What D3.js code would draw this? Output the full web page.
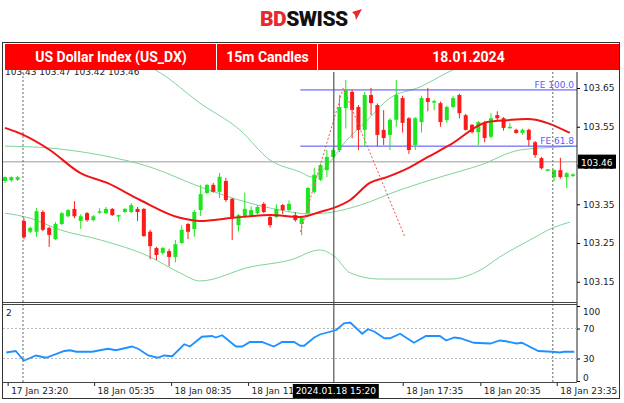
<!DOCTYPE html>
<html><head><meta charset="utf-8">
<script src="https://cdn.jsdelivr.net/npm/d3@7"></script>
<style>body{margin:0;background:#fff;font-family:"DejaVu Sans",sans-serif}</style>
</head><body><svg id="c" width="624" height="403"></svg>
<script>
// candles: [open, high, low, close]
const candles = [
[103.41,103.422,103.405,103.42],[103.412,103.422,103.408,103.42],[103.413,103.423,103.41,103.42],
[103.307,103.315,103.26,103.265],[103.279,103.292,103.275,103.289],[103.279,103.34,103.266,103.332],
[103.33,103.335,103.28,103.284],[103.289,103.292,103.24,103.271],[103.26,103.304,103.258,103.299],
[103.299,103.33,103.296,103.327],[103.319,103.338,103.316,103.335],[103.338,103.358,103.314,103.319],
[103.307,103.324,103.286,103.319],[103.327,103.33,103.305,103.309],[103.309,103.322,103.306,103.319],
[103.33,103.34,103.325,103.332],[103.327,103.343,103.325,103.338],[103.338,103.34,103.32,103.322],
[103.32,103.323,103.305,103.322],[103.33,103.34,103.327,103.338],[103.33,103.353,103.327,103.348],
[103.338,103.343,103.307,103.33],[103.338,103.34,103.266,103.268],[103.279,103.284,103.208,103.242],
[103.237,103.24,103.206,103.219],[103.224,103.24,103.22,103.237],[103.229,103.235,103.19,103.214],
[103.214,103.258,103.2,103.247],[103.25,103.296,103.248,103.284],[103.299,103.302,103.26,103.279],
[103.286,103.335,103.266,103.33],[103.335,103.4,103.32,103.376],[103.379,103.402,103.376,103.4],
[103.4,103.405,103.38,103.382],[103.382,103.431,103.366,103.421],[103.41,103.418,103.356,103.361],
[103.364,103.366,103.258,103.314],[103.296,103.325,103.28,103.322],[103.317,103.38,103.314,103.338],
[103.322,103.345,103.318,103.335],[103.327,103.348,103.324,103.343],[103.351,103.355,103.327,103.33],
[103.317,103.32,103.29,103.296],[103.317,103.35,103.314,103.338],[103.348,103.351,103.325,103.335],
[103.335,103.36,103.33,103.351],[103.322,103.33,103.305,103.309],[103.299,103.317,103.27,103.314],
[103.327,103.395,103.324,103.392],[103.382,103.444,103.378,103.426],[103.413,103.455,103.41,103.451],
[103.438,103.49,103.42,103.472],[103.472,103.495,103.468,103.49],[103.49,103.632,103.485,103.601],
[103.598,103.671,103.545,103.645],[103.64,103.645,103.52,103.593],[103.601,103.606,103.49,103.542],
[103.542,103.64,103.5,103.632],[103.632,103.65,103.58,103.611],[103.606,103.61,103.5,103.529],
[103.542,103.593,103.503,103.521],[103.529,103.572,103.49,103.568],[103.568,103.671,103.55,103.632],
[103.624,103.63,103.535,103.56],[103.572,103.575,103.48,103.49],[103.503,103.575,103.49,103.572],
[103.562,103.63,103.535,103.624],[103.624,103.65,103.59,103.614],[103.612,103.62,103.593,103.616],
[103.611,103.615,103.55,103.562],[103.567,103.605,103.56,103.601],[103.601,103.63,103.598,103.624],
[103.632,103.635,103.572,103.585],[103.58,103.583,103.54,103.542],[103.555,103.557,103.533,103.536],
[103.536,103.565,103.503,103.562],[103.56,103.565,103.51,103.521],[103.524,103.585,103.52,103.572],
[103.58,103.59,103.568,103.572],[103.572,103.575,103.54,103.547],[103.547,103.56,103.545,103.55],
[103.542,103.545,103.532,103.534],[103.534,103.545,103.53,103.542],[103.542,103.545,103.5,103.516],
[103.51,103.513,103.47,103.477],[103.469,103.472,103.44,103.443],[103.438,103.441,103.437,103.44],
[103.42,103.44,103.41,103.438],[103.438,103.47,103.416,103.42],[103.42,103.433,103.392,103.43],
[103.425,103.43,103.42,103.427]];
// [candle index, value]
const maLine = [[0,103.547],[2.9,103.529],[7.1,103.49],[11.9,103.431],[16.2,103.405],[21.4,103.361],[27.7,103.315],[30.9,103.307],[36.1,103.315],[42,103.322],[46.8,103.317],[49.9,103.33],[52,103.34],[54.7,103.361],[57.8,103.405],[60.5,103.42],[64.2,103.446],[67,103.472],[70.5,103.503],[76.4,103.562],[79.6,103.567],[82.7,103.57],[89.5,103.534]];
const bbUpper = [[18.2,103.735],[24.6,103.689],[30.9,103.611],[37.2,103.542],[42,103.464],[46.8,103.433],[48.7,103.42],[51.5,103.459],[53.9,103.511],[57.1,103.562],[61,103.624],[65.8,103.653],[70,103.689],[73.7,103.717]];
const bbMiddle = [[0,103.5],[7.1,103.495],[15.1,103.477],[23,103.446],[30.9,103.395],[38.8,103.353],[43.6,103.335],[48.3,103.325],[52,103.33],[56.3,103.348],[62.6,103.387],[68.9,103.42],[75.3,103.451],[81.6,103.49],[88,103.498],[90,103.5]];
const bbLower = [[0,103.327],[4,103.314],[8.7,103.284],[15.1,103.258],[23,103.214],[27.7,103.173],[30.9,103.152],[38.8,103.188],[45.2,103.206],[49.9,103.232],[52.3,103.214],[54.7,103.173],[59.4,103.157],[70.5,103.157],[75.3,103.18],[78.4,103.214],[83.2,103.258],[86.8,103.289],[89.5,103.304]];
const fibPath = [[46.8,103.279],[53.6,103.65],[63.4,103.264]];
const feLevels = [{label:"FE 100.0",value:103.645,from:46.8},{label:"FE 61.8",value:103.5,from:46.8}];
const lastPrice = 103.46;
const oscValues = [[0.2,38],[1.7,40],[3,27],[4.9,34],[6.5,31],[9.4,40],[10.3,41],[11.3,39],[13.8,39],[16.3,43],[17.6,41],[20.1,46],[21.1,43],[22.7,34],[24.2,31],[25.2,34],[26.5,33],[28.4,49],[29.3,46],[31.2,59],[32.8,60],[33.4,58],[34.4,61],[36.6,46],[37.6,46],[38.8,52],[40.7,52],[42.6,46],[43.9,52],[45.8,52],[46.8,47],[47.4,47],[49,58],[49.9,62],[52.5,68],[53.7,77],[54.7,78],[56.6,63],[57.5,69],[58.5,66],[60.1,57],[61,57],[62.6,63],[64.8,51],[66.7,60],[68.9,60],[69.9,54],[71.2,58],[72.1,57],[74.3,51],[76.9,50],[78.4,54],[79.4,53],[81,50],[81.9,51],[84.5,40],[86.7,39],[87.9,38],[88.6,39],[90.2,39]];
const priceTicks = [103.15,103.25,103.35,103.45,103.55,103.65];
const oscTicks = [0,30,70,100];
const timeLabels = [[0.5,"17 Jan 23:20"],[14.2,"18 Jan 05:35"],[26.4,"18 Jan 08:35"],[38.6,"18 Jan 11:3"],[63.1,"18 Jan 17:35"],[75.4,"18 Jan 20:35"],[87.5,"18 Jan 23:35"]];
const cursorLabel = [52.1,"2024.01.18 15:20"];
const dottedV = [2.85,86.8];
const headerTitles = ["US Dollar Index (US_DX)","15m Candles","18.01.2024"];
const ohlcText = "103.43 103.47 103.42 103.46";

const svg = d3.select("#c");
const X = d3.scaleLinear().domain([0,90]).range([5,573]);
const Y = d3.scaleLinear().domain([103.15,103.65]).range([281.75,88]);
const O = d3.scaleLinear().domain([0,100]).range([381,306]);
const G="#1ee61e", R="#ff1a1a";

// logo
const logo = svg.append("text").attr("x",260).attr("y",26).attr("font-family","Roboto, sans-serif").attr("font-weight","900").attr("font-size",21).attr("letter-spacing","-0.5");
logo.append("tspan").attr("fill","#e42a2f").text("BD");
logo.append("tspan").attr("fill","#111").text("SWISS");
svg.append("path").attr("d","M352,12 L362,9 L356,20 L355,15 Z").attr("fill","#e42a2f");

// frame
svg.append("rect").attr("x",2.5).attr("y",42.5).attr("width",617).attr("height",356).attr("fill","#fff").attr("stroke","#333");
svg.append("clipPath").attr("id","mc").append("rect").attr("x",3).attr("y",70).attr("width",574).attr("height",232);
const main = svg.append("g").attr("clip-path","url(#mc)");

main.append("text").attr("x",5).attr("y",75).attr("font-size",9).attr("fill","#222").text(ohlcText);

main.append("line").attr("x1",3).attr("x2",577).attr("y1",Y(lastPrice)).attr("y2",Y(lastPrice)).attr("stroke","#bbb").attr("stroke-width",1.5);

const ln = d3.line().x(d=>X(d[0])).y(d=>Y(d[1])).curve(d3.curveMonotoneX);
[bbUpper,bbMiddle,bbLower].forEach(a=>main.append("path").attr("d",ln(a)).attr("fill","none").attr("stroke","#7fd39a").attr("stroke-width",1));

feLevels.forEach(f=>{
  main.append("line").attr("x1",X(f.from)).attr("x2",577).attr("y1",Y(f.value)).attr("y2",Y(f.value)).attr("stroke","#4a4aff").attr("stroke-width",1);
  main.append("text").attr("x",574).attr("y",Y(f.value)-2).attr("text-anchor","end").attr("font-size",9).attr("fill","#5a5aff").text(f.label);
});

dottedV.forEach(i=>svg.append("line").attr("x1",X(i)).attr("x2",X(i)).attr("y1",72).attr("y2",382).attr("stroke","#666").attr("stroke-dasharray","2,2"));
svg.append("line").attr("x1",X(cursorLabel[0])).attr("x2",X(cursorLabel[0])).attr("y1",72).attr("y2",382).attr("stroke","#555").attr("stroke-width",1.2);

const bw=4;
candles.forEach((c,i)=>{
  const col = c[3]>=c[0]?G:R;
  const x=X(i);
  main.append("line").attr("x1",x).attr("x2",x).attr("y1",Y(c[1])).attr("y2",Y(c[2])).attr("stroke",col).attr("stroke-width",1);
  const y1=Y(Math.max(c[0],c[3])), y2=Y(Math.min(c[0],c[3]));
  main.append("rect").attr("x",x-bw/2).attr("y",y1).attr("width",bw).attr("height",Math.max(y2-y1,1.5)).attr("fill",col);
});

main.append("path").attr("d",ln(maLine)).attr("fill","none").attr("stroke","#f01414").attr("stroke-width",2);
main.append("path").attr("d",d3.line().x(d=>X(d[0])).y(d=>Y(d[1]))(fibPath)).attr("fill","none").attr("stroke","#f05050").attr("stroke-dasharray","2,2").attr("stroke-width",1);

svg.append("line").attr("x1",577).attr("x2",577).attr("y1",72).attr("y2",382).attr("stroke","#222");
const ya = svg.append("g").attr("transform","translate(577,0)").call(d3.axisRight(Y).tickValues(priceTicks).tickFormat(d3.format(".2f")).tickSize(3));
ya.select(".domain").remove();
ya.selectAll("text").attr("font-size",9).attr("fill","#222").attr("font-family","DejaVu Sans");
svg.append("rect").attr("x",578).attr("y",Y(lastPrice)-7).attr("width",38).attr("height",14).attr("fill","#000");
svg.append("text").attr("x",581).attr("y",Y(lastPrice)+4).attr("font-size",9).attr("fill","#fff").text(lastPrice.toFixed(2));

svg.append("line").attr("x1",3).attr("x2",577).attr("y1",302.5).attr("y2",302.5).attr("stroke","#444").attr("stroke-width",1.2);
svg.append("line").attr("x1",3).attr("x2",577).attr("y1",304.5).attr("y2",304.5).attr("stroke","#444").attr("stroke-width",1.2);
svg.append("line").attr("x1",3).attr("x2",577).attr("y1",382.5).attr("y2",382.5).attr("stroke","#444");

[30,70].forEach(v=>svg.append("line").attr("x1",3).attr("x2",577).attr("y1",O(v)).attr("y2",O(v)).attr("stroke","#bbb").attr("stroke-dasharray","2,2"));
const oa = svg.append("g").attr("transform","translate(577,0)").call(d3.axisRight(O).tickValues(oscTicks).tickSize(3));
oa.select(".domain").remove();
oa.selectAll("text").attr("font-size",9).attr("fill","#222").attr("font-family","DejaVu Sans")
  .attr("dy",d=>d===100?"0.9em":d===0?"-0.1em":"0.32em");
svg.append("text").attr("x",6).attr("y",316).attr("font-size",9).attr("fill","#222").text("2");
svg.append("path").attr("d",d3.line().x(d=>X(d[0])).y(d=>O(d[1]))(oscValues)).attr("fill","none").attr("stroke","#1e90ff").attr("stroke-width",1.8);

timeLabels.forEach(t=>{
  svg.append("line").attr("x1",X(t[0])).attr("x2",X(t[0])).attr("y1",383).attr("y2",386).attr("stroke","#222");
  svg.append("text").attr("x",X(t[0])+3).attr("y",394).attr("font-size",9).attr("fill","#222").text(t[1]);
});
svg.append("rect").attr("x",X(cursorLabel[0])-41).attr("y",384).attr("width",86).attr("height",14).attr("fill","#000");
svg.append("text").attr("x",X(cursorLabel[0])+2).attr("y",394).attr("text-anchor","middle").attr("font-size",9).attr("fill","#fff").text(cursorLabel[1]);

const hx=[5,217,318,619];
for(let k=0;k<3;k++){
  svg.append("rect").attr("x",hx[k]).attr("y",44).attr("width",hx[k+1]-hx[k]-(k<2?1:0)).attr("height",26).attr("fill","#ff0000");
  svg.append("text").attr("x",(hx[k]+hx[k+1])/2).attr("y",62).attr("text-anchor","middle").attr("font-family","Roboto, sans-serif").attr("font-weight","bold").attr("font-size",14).attr("fill","#fff").text(headerTitles[k]);
}
</script></body></html>
